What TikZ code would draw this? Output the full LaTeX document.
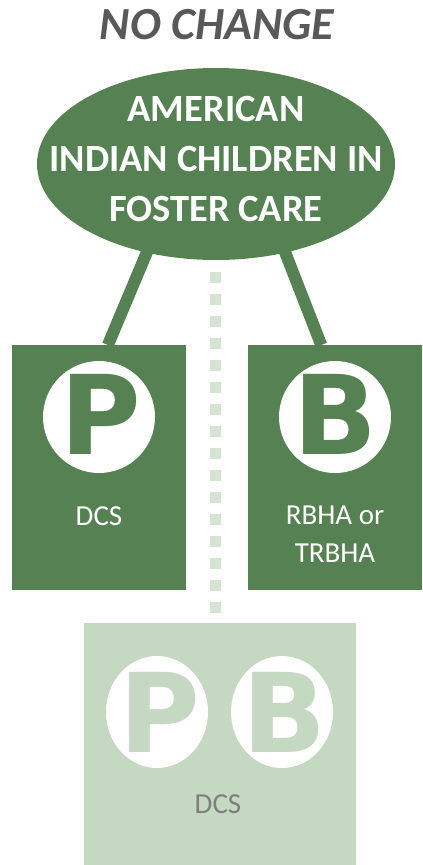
\documentclass[tikz,border=0pt]{standalone}
\usepackage{fontspec}
\setmainfont{Carlito}
\newfontfamily\heavyfont{DejaVu Sans}
\usetikzlibrary{shapes.geometric,calc}
\definecolor{dgreen}{HTML}{568152}
\definecolor{lgreen}{HTML}{C5D8C1}
\definecolor{dotgreen}{HTML}{D5E4D2}
\definecolor{titlegray}{HTML}{595959}
\definecolor{dcsgray}{HTML}{7F7F7F}
\pgfdeclarelayer{bg}
\pgfsetlayers{bg,main}
\tikzset{
  darkbox/.style={fill=dgreen, minimum width=174pt, minimum height=245pt, inner sep=0, anchor=north west},
  disc/.style={circle, fill=white, minimum size=112pt, inner sep=0},
  oval/.style={ellipse, fill=white, minimum width=102pt, minimum height=112pt, inner sep=0},
  letter/.style={inner sep=0, font=\heavyfont\bfseries\fontsize{110}{110}\selectfont},
  label/.style={font=\fontsize{29}{38}\selectfont, align=center, inner sep=0},
  link/.style={draw=dgreen, line width=12pt},
}
\begin{document}
\begin{tikzpicture}[x=1pt,y=-1pt]
\useasboundingbox (0,0) rectangle (423,865);
\node[font=\bfseries\itshape\fontsize{46}{46}\selectfont, text=titlegray, inner sep=0] (title) at (217,25) {NO CHANGE};
\node[ellipse, fill=dgreen, minimum width=358pt, minimum height=192pt, inner sep=0] (e) at (216,164) {};
\node[font=\bfseries\fontsize{38.5}{50}\selectfont, text=white, align=center, inner sep=0] (et) at (216,159) {AMERICAN\\INDIAN CHILDREN IN\\FOSTER CARE};
\node[darkbox] (lbox) at (12,345) {};
\node[darkbox] (rbox) at (248,345) {};
\node[fill=lgreen, minimum width=272pt, minimum height=245pt, inner sep=0, anchor=north west] (bbox) at (84,623) {};
\node[disc] (pc) at (99,417) {};
\node[letter, text=dgreen] (pl) at (101,414) {P};
\node[disc] (bc) at (335,417) {};
\node[letter, text=dgreen] (bl) at (335,414) {B};
\node[label, text=white] (ldcs) at (99,516) {DCS};
\node[label, text=white] (rlab) at (335,534) {RBHA or\\TRBHA};
\node[oval] (pb1) at (157,712) {};
\node[letter, text=lgreen] (pbl1) at (160,712) {P};
\node[oval] (pb2) at (282,712) {};
\node[letter, text=lgreen] (pbl2) at (284,712) {B};
\node[label, text=dcsgray] (bdcs) at (218,804) {DCS};
\begin{pgfonlayer}{bg}
\draw[link, shorten <=-8pt] (e.232) -- ($(lbox.north west)!0.55!(lbox.north east)$);
\draw[link, shorten <=-8pt] (e.308) -- ($(rbox.north west)!0.42!(rbox.north east)$);
\draw[draw=dotgreen, line width=11pt, dash pattern=on 11pt off 11pt, shorten <=12pt, shorten >=5pt] (e.south -| 215,0) -- (bbox.north -| 215,0);
\end{pgfonlayer}
\end{tikzpicture}
\end{document}
